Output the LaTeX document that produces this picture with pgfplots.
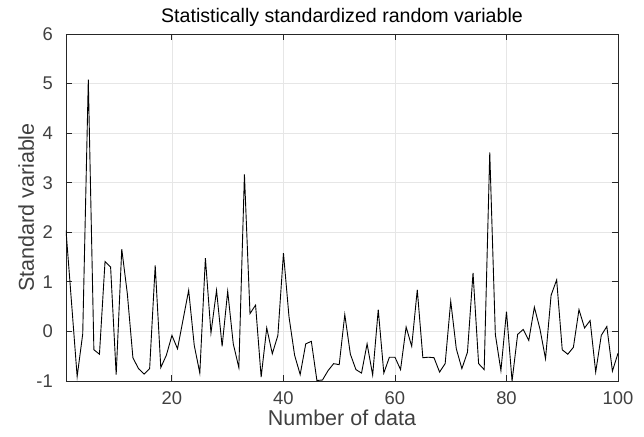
\documentclass[border=0pt]{standalone}
\usepackage{fontspec}
\setmainfont{Liberation Sans}
\usepackage{pgfplots}
\pgfplotsset{compat=1.18}
\definecolor{axgray}{HTML}{262626}
\definecolor{tickgray}{HTML}{404040}
\definecolor{gridgray}{HTML}{E6E6E6}
\begin{document}
\begin{tikzpicture}
\begin{axis}[
  at={(0,0)}, anchor=south west,
  scale only axis,
  width=552pt, height=347pt,
  xmin=1, xmax=100, ymin=-1, ymax=6,
  xtick={20,40,60,80,100},
  ytick={-1,0,1,2,3,4,5,6},
  tick align=inside,
  major tick length=6pt,
  xtick pos=both, ytick pos=both,
  grid=major,
  major grid style={gridgray, line width=0.8pt},
  axis line style={axgray, line width=0.9pt},
  every tick/.style={axgray, line width=0.9pt},
  /pgf/number format/assume math mode=true,
  tick label style={font=\fontsize{18.4}{22}\selectfont, text=tickgray, inner sep=0pt},
  xticklabel style={anchor=north, yshift=-10pt},
  yticklabel style={anchor=east, xshift=-13pt},
  title={Statistically standardized random variable},
  title style={at={([yshift=5pt]axis description cs:0.5,1)}, anchor=base, font=\fontsize{19.6}{23}\selectfont, text=black},
  xlabel={Number of data},
  xlabel style={at={([yshift=-44pt]axis description cs:0.5,0)}, anchor=base, font=\fontsize{21.5}{25}\selectfont, text=tickgray},
  ylabel={Standard variable},
  ylabel style={at={([xshift=-32pt]axis description cs:0,0.5)}, rotate=0, anchor=base, font=\fontsize{21.5}{25}\selectfont, text=tickgray},
]
\addplot[black, line width=0.9pt, mark=none] coordinates {
(1,2.04) (2,0.57) (3,-0.91) (4,-0.05) (5,5.08) (6,-0.37) (7,-0.46) (8,1.41) (9,1.30) (10,-0.87)
(11,1.66) (12,0.76) (13,-0.53) (14,-0.75) (15,-0.86) (16,-0.75) (17,1.33) (18,-0.73) (19,-0.48) (20,-0.08)
(21,-0.35) (22,0.24) (23,0.83) (24,-0.28) (25,-0.84) (26,1.48) (27,-0.03) (28,0.83) (29,-0.30) (30,0.81)
(31,-0.25) (32,-0.73) (33,3.17) (34,0.36) (35,0.53) (36,-0.92) (37,0.07) (38,-0.45) (39,-0.08) (40,1.58)
(41,0.29) (42,-0.48) (43,-0.87) (44,-0.25) (45,-0.20) (46,-0.99) (47,-0.98) (48,-0.79) (49,-0.65) (50,-0.67)
(51,0.34) (52,-0.46) (53,-0.77) (54,-0.84) (55,-0.25) (56,-0.88) (57,0.44) (58,-0.84) (59,-0.52) (60,-0.52)
(61,-0.77) (62,0.09) (63,-0.30) (64,0.84) (65,-0.53) (66,-0.52) (67,-0.53) (68,-0.82) (69,-0.65) (70,0.61)
(71,-0.35) (72,-0.75) (73,-0.42) (74,1.18) (75,-0.65) (76,-0.77) (77,3.61) (78,-0.06) (79,-0.79) (80,0.40)
(81,-1.00) (82,-0.06) (83,0.04) (84,-0.18) (85,0.49) (86,0.05) (87,-0.55) (88,0.73) (89,1.04) (90,-0.37)
(91,-0.46) (92,-0.32) (93,0.44) (94,0.07) (95,0.22) (96,-0.82) (97,-0.08) (98,0.10) (99,-0.80) (100,-0.44)
};
\end{axis}
\pgfresetboundingbox
\path[use as bounding box] (-66pt,-55pt) rectangle (578pt,381pt);
\end{tikzpicture}
\end{document}
